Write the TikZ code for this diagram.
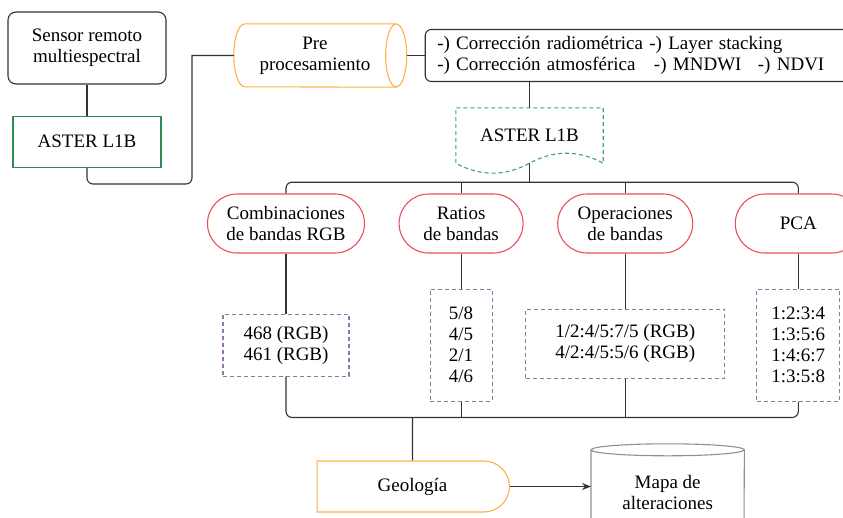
\documentclass[tikz,border=0pt]{standalone}
\usepackage{fontspec}
\setmainfont{Liberation Serif}
\usepackage{tikz}
\usetikzlibrary{arrows.meta,positioning,calc,shapes.misc}
\usepackage{xcolor}

\definecolor{inkgray}{HTML}{333333}
\definecolor{boxgreen}{HTML}{2E8B57}
\definecolor{boxorange}{HTML}{FFB049}
\definecolor{boxred}{HTML}{EB4E5B}
\definecolor{boxteal}{HTML}{3E9A98}
\definecolor{boxpurple}{HTML}{9673A6}
\definecolor{boxgray}{HTML}{909090}

\tikzset{
  link/.style={draw=inkgray, line width=1.1pt},
  plainbox/.style={draw=inkgray, line width=1.1pt, rounded corners=8pt, align=center},
  greenbox/.style={draw=boxgreen, line width=1.1pt, align=center},
  term/.style={draw=boxred, line width=1.1pt, rounded corners=29.5pt,
    minimum height=59pt, align=center},
  dataset/.style={draw=boxpurple, line width=1.1pt, dash pattern=on 4pt off 3pt,
    align=center},
}

\begin{document}
\begin{tikzpicture}[x=1pt, y=1pt, >={Stealth[length=9pt,width=7pt]},
  font=\fontsize{19pt}{21pt}\selectfont]

  \useasboundingbox (0,0) rectangle (843,-517);
  \clip (0,0) rectangle (843,-517);

  % Define nodes
  \node[plainbox, minimum width=158pt, minimum height=72pt] (sensor) at (87,-48)
    {Sensor remoto\\multiespectral};
  \node[greenbox, minimum width=148pt, minimum height=51pt] (aster1) [below=31pt of sensor] {ASTER L1B};
  \node[minimum width=162pt, minimum height=63pt, align=center] (pre) at (315,-55.5)
    {Pre\\procesamiento};
  \coordinate (preout) at ([xshift=10.5pt]pre.east);
  \node[draw=inkgray, line width=1.1pt, rounded corners=6pt, minimum height=52pt,
    text width=440pt, inner xsep=12pt, align=left] (info) [right=18pt of preout]
    {-) Corrección radiométrica -) Layer stacking\\
     -) Corrección atmosférica\hspace{12pt} -) MNDWI\hspace{10pt} -) NDVI};
  \node[minimum width=147pt, minimum height=55pt] (doc) at (529.5,-135.5) {ASTER L1B};
  \coordinate[below=19pt of doc] (fork);
  \coordinate (bend) at (192,-184);

  \node[term, minimum width=157pt] (comb) at (286,-223.5) {Combinaciones\\de bandas RGB};
  \node[term, minimum width=124pt] (ratios) [right=33.5pt of comb] {Ratios\\de bandas};
  \node[term, minimum width=135pt] (oper) [right=33.5pt of ratios] {Operaciones\\de bandas};
  \node[term, minimum width=126pt] (pca) [right=41.5pt of oper] {PCA};

  \node[dataset, minimum width=126pt, minimum height=62pt] (rgbset) [below=60pt of comb]
    {468 (RGB)\\461 (RGB)};
  \node[dataset, minimum width=62pt, minimum height=112pt] (ratioset) [below=35pt of ratios]
    {5/8\\4/5\\2/1\\4/6};
  \node[dataset, minimum width=199pt, minimum height=69pt] (operset) [below=55pt of oper]
    {1/2:4/5:7/5 (RGB)\\4/2:4/5:5/6 (RGB)};
  \node[dataset, minimum width=83pt, minimum height=112pt] (pcaset) [below=35pt of pca]
    {1:2:3:4\\1:3:5:6\\1:4:6:7\\1:3:5:8};

  \node[draw=boxorange, line width=1.1pt, rounded rectangle, rounded rectangle left arc=none,
    minimum width=199pt, minimum height=51pt] (geo) at (412.5,-486.5) {Geología};
  \coordinate[above=43pt of geo] (join);
  \node[minimum width=153pt, minimum height=96pt, align=center] (mapa)
    [right=81pt of geo, yshift=-5.5pt] {Mapa de\\alteraciones};

  % Outlines of the special shapes
  \draw[draw=boxorange, line width=1.1pt] (pre.north east) -- ([xshift=11pt]pre.north west)
    arc[start angle=90, end angle=270, x radius=11pt, y radius=31.5pt] -- (pre.south east);
  \draw[draw=boxorange, line width=1.1pt] (pre.east) ellipse[x radius=10.5pt, y radius=31.5pt];
  \draw[draw=boxteal, line width=1.1pt, dash pattern=on 4pt off 3pt]
    (doc.south west) -- (doc.north west) -- (doc.north east) -- (doc.south east)
    .. controls +(-24.5,13.3) and +(24.5,13.3) .. (doc.south)
    .. controls +(-24.5,-13.3) and +(24.5,-13.3) .. (doc.south west);
  \draw[draw=boxgray, line width=1.1pt] ([yshift=-6pt]mapa.north west) -- ([yshift=6pt]mapa.south west)
    arc[start angle=180, end angle=360, x radius=76.5pt, y radius=6pt] -- ([yshift=-6pt]mapa.north east);
  \draw[draw=boxgray, line width=1.1pt] ([yshift=-6pt]mapa.north) ellipse[x radius=76.5pt, y radius=6pt];

  % Draw connectors
  \draw[link] (sensor) -- (aster1);
  \draw[link] (aster1.south) [rounded corners=6pt] |- (bend) [sharp corners] |- (pre.west);
  \draw[link] (preout) -- (info.west);
  \draw[link] (info.south -| doc.north) -- (doc.north);
  \draw[link] (doc.south) -- (fork);
  \draw[link, rounded corners=6pt] (comb.north) |- (fork) -| (pca.north);
  \foreach \n in {ratios, oper}
    \draw[link] (\n.north) -- (\n.north |- fork);
  \foreach \t/\s in {comb/rgbset, ratios/ratioset, oper/operset, pca/pcaset}
    \draw[link] (\t) -- (\s);
  \draw[link, rounded corners=6pt] (rgbset.south) |- (join) -| (pcaset.south);
  \foreach \s in {ratioset, operset}
    \draw[link] (\s.south) -- (\s.south |- join);
  \draw[link] (join) -- (geo);
  \draw[link, ->] (geo.east) -- (geo.east -| mapa.west);
\end{tikzpicture}
\end{document}
